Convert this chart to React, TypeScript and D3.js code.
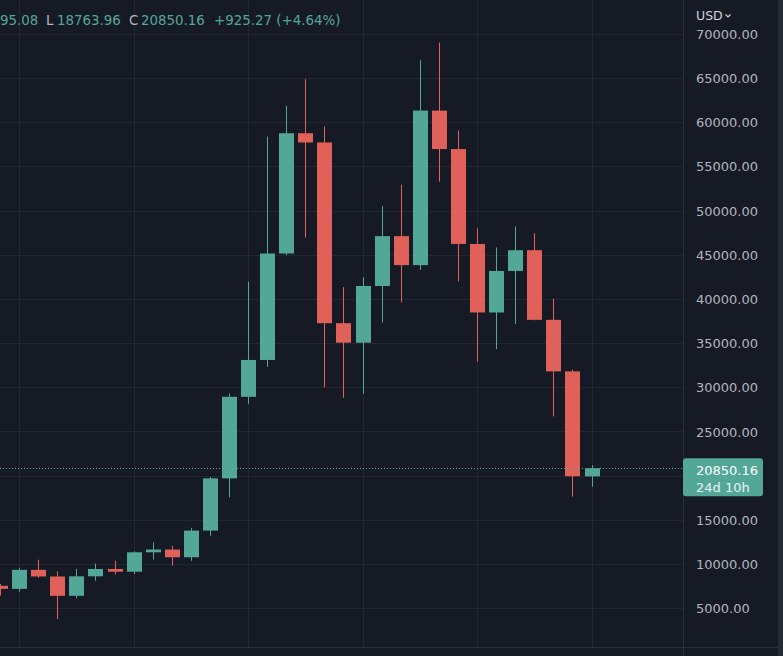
import { useEffect, useRef } from 'react';
import * as d3 from 'd3';

// monthly candles, Dec 2019 .. Jul 2022
const months = [
  '2019-12', '2020-01', '2020-02', '2020-03', '2020-04', '2020-05', '2020-06', '2020-07',
  '2020-08', '2020-09', '2020-10', '2020-11', '2020-12', '2021-01', '2021-02', '2021-03',
  '2021-04', '2021-05', '2021-06', '2021-07', '2021-08', '2021-09', '2021-10', '2021-11',
  '2021-12', '2022-01', '2022-02', '2022-03', '2022-04', '2022-05', '2022-06', '2022-07',
];
const opens = [
  7540, 7195, 9351, 8599, 6412, 8620, 9448, 9138,
  11335, 11649, 10776, 13791, 19695, 28923, 33092, 45134,
  58739, 57697, 37253, 35045, 41461, 47100, 43821, 61300,
  56950, 46216, 38466, 43160, 45510, 37630, 31801, 19924.89,
];
const highs = [
  7750, 9578, 10500, 9188, 9460, 10067, 10380, 11444,
  12468, 12050, 14100, 19863, 29300, 41950, 58352, 61844,
  64854, 59500, 41330, 42448, 50500, 52920, 67000, 69000,
  59053, 47990, 45821, 48189, 47444, 40023, 31986, 21195.08,
];
const lows = [
  6435, 6871, 8450, 3782, 6150, 8117, 8833, 8893,
  10518, 9825, 10374, 13195, 17572, 28130, 32296, 44950,
  46930, 30000, 28805, 29278, 37332, 39600, 43283, 53256,
  42000, 32917, 34322, 37155, 37578, 26700, 17622, 18763.96,
];
const closes = [
  7195, 9352, 8600, 6410, 8620, 9448, 9138, 11335,
  11649, 10776, 13791, 19695, 28923, 33092, 45135, 58740,
  57694, 37253, 35045, 41461, 47100, 43824, 61299, 56950,
  46216, 38466, 43160, 45510, 37630, 31801, 19942, 20850.16,
];
const priceTicks = [5000, 10000, 15000, 20000, 25000, 30000, 35000, 40000, 45000, 50000, 55000, 60000, 65000, 70000];
const gridMonths = ['2020-01', '2020-07', '2021-01', '2021-07', '2022-01', '2022-07'];
const lastPrice = 20850.16;
const countdown = '24d 10h';

const W = 783;
const H = 656;
const BG = '#161a25';
const GRID = '#232733';
const UP = '#53a797';
const DOWN = '#e0605a';
const AXIS_TEXT = '#b2b5be';
const FONT = 'DejaVu Sans, sans-serif';

export default function App() {
  const ref = useRef<SVGSVGElement | null>(null);

  useEffect(() => {
    if (!ref.current) return;
    document.body.style.margin = '0';
    document.body.style.background = BG;

    const svg = d3.select(ref.current);
    svg.selectAll('*').remove();
    svg.attr('width', W).attr('height', H).style('display', 'block');

    const paneRight = 683;
    const paneBottom = 647;

    const x = d3.scalePoint<string>().domain(months).range([0.1, 591.5]);
    const y = d3.scaleLinear().domain([0, 70000]).range([652.5, 33.7]);

    svg.append('rect').attr('width', W).attr('height', H).attr('fill', BG);

    // grid
    svg.append('g')
      .selectAll('line')
      .data(priceTicks)
      .enter()
      .append('line')
      .attr('x1', 0)
      .attr('x2', paneRight)
      .attr('y1', (d) => Math.round(y(d)) + 0.5)
      .attr('y2', (d) => Math.round(y(d)) + 0.5)
      .attr('stroke', GRID);

    svg.append('g')
      .selectAll('line')
      .data(gridMonths)
      .enter()
      .append('line')
      .attr('x1', (d) => Math.round(x(d)!) + 0.5)
      .attr('x2', (d) => Math.round(x(d)!) + 0.5)
      .attr('y1', 0)
      .attr('y2', paneBottom)
      .attr('stroke', GRID);

    const candles = months.map((m, i) => ({
      m, o: opens[i], h: highs[i], l: lows[i], c: closes[i],
    }));
    const bw = 15;

    const g = svg.append('g');
    // wicks
    g.selectAll('.wick')
      .data(candles)
      .enter()
      .append('line')
      .attr('x1', (d) => Math.round(x(d.m)!) + 0.5)
      .attr('x2', (d) => Math.round(x(d.m)!) + 0.5)
      .attr('y1', (d) => y(d.h))
      .attr('y2', (d) => y(d.l))
      .attr('stroke', (d) => (d.c >= d.o ? UP : DOWN))
      .attr('stroke-width', 1);
    // bodies
    g.selectAll('.body')
      .data(candles)
      .enter()
      .append('rect')
      .attr('x', (d) => Math.round(x(d.m)!) + 0.5 - bw / 2)
      .attr('width', bw)
      .attr('y', (d) => y(Math.max(d.o, d.c)))
      .attr('height', (d) => Math.max(1, Math.abs(y(d.o) - y(d.c))))
      .attr('fill', (d) => (d.c >= d.o ? UP : DOWN));

    // last price dotted line
    svg.append('line')
      .attr('x1', 0)
      .attr('x2', paneRight)
      .attr('y1', Math.round(y(lastPrice)) + 0.5)
      .attr('y2', Math.round(y(lastPrice)) + 0.5)
      .attr('stroke', UP)
      .attr('stroke-dasharray', '1 2');

    // header legend (scrolled, only tail of the high value is visible)
    const header = svg.append('g').style('font-family', FONT).style('font-size', '13.4px');
    header.append('text').attr('x', 0).attr('y', 25).attr('fill', UP).text('95.08');
    header.append('text').attr('x', 46).attr('y', 25).attr('fill', AXIS_TEXT).text('L');
    header.append('text').attr('x', 57).attr('y', 25).attr('fill', UP).text('18763.96');
    header.append('text').attr('x', 129).attr('y', 25).attr('fill', AXIS_TEXT).text('C');
    header.append('text').attr('x', 141).attr('y', 25).attr('fill', UP).text('20850.16');
    header.append('text').attr('x', 214).attr('y', 25).attr('fill', UP).text('+925.27 (+4.64%)');

    // time axis border
    svg.append('line')
      .attr('x1', 0).attr('x2', W)
      .attr('y1', paneBottom + 0.5).attr('y2', paneBottom + 0.5)
      .attr('stroke', '#2a2e39');

    // price axis
    svg.append('line')
      .attr('x1', paneRight + 0.5).attr('x2', paneRight + 0.5)
      .attr('y1', 0).attr('y2', H)
      .attr('stroke', '#2a2e39');
    svg.append('rect').attr('x', 778).attr('y', 0).attr('width', 5).attr('height', H).attr('fill', '#262a35');

    const ly = y(lastPrice);
    const boxTop = ly - 10;
    const boxH = 38;

    const axis = svg.append('g').style('font-family', FONT).style('font-size', '13px');
    axis.selectAll('text')
      .data(priceTicks.filter((d) => y(d) < boxTop - 6 || y(d) > boxTop + boxH + 6))
      .enter()
      .append('text')
      .attr('x', 696)
      .attr('y', (d) => y(d) + 5)
      .attr('fill', AXIS_TEXT)
      .text((d) => d3.format('.2f')(d));

    // currency header covers top of axis
    svg.append('rect').attr('x', paneRight + 1).attr('y', 0).attr('width', 778 - paneRight - 1).attr('height', 28.5).attr('fill', BG);
    svg.append('text')
      .attr('x', 696).attr('y', 20)
      .attr('fill', '#d1d4dc')
      .style('font-family', FONT).style('font-size', '12.5px')
      .text('USD');
    svg.append('path')
      .attr('d', 'M725.5,14.5 l2.5,2.5 l2.5,-2.5')
      .attr('fill', 'none')
      .attr('stroke', '#d1d4dc')
      .attr('stroke-width', 1.1);

    // last price label
    svg.append('rect')
      .attr('x', paneRight).attr('y', boxTop)
      .attr('width', 80).attr('height', boxH)
      .attr('rx', 3)
      .attr('fill', UP);
    svg.append('text')
      .attr('x', 696).attr('y', ly + 6.5)
      .attr('fill', '#ffffff')
      .style('font-family', FONT).style('font-size', '13px').style('font-weight', 500)
      .text(d3.format('.2f')(lastPrice));
    svg.append('text')
      .attr('x', 696).attr('y', ly + 23.5)
      .attr('fill', '#e8f4f2')
      .style('font-family', FONT).style('font-size', '13px')
      .text(countdown);
  }, []);

  return <svg ref={ref}></svg>;
}
